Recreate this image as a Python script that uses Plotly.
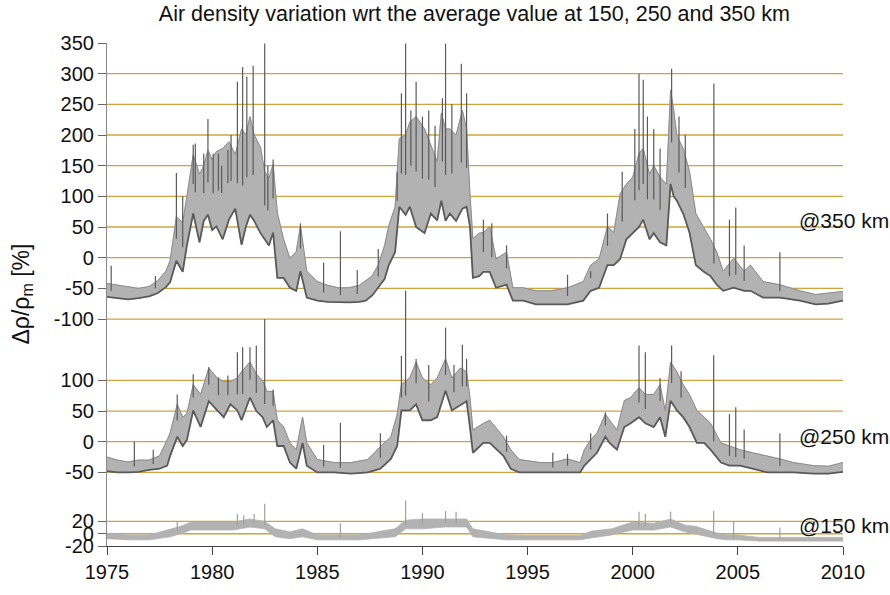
import numpy as np
import plotly.graph_objects as go

# ---------------- data (values in % per altitude) ----------------
years_350 = [1975.0,1975.5,1976.0,1976.5,1977.0,1977.4,1977.8,1978.0,1978.3,1978.6,1978.8,1979.1,1979.4,1979.6,1979.8,
             1980.0,1980.2,1980.5,1980.8,1981.1,1981.4,1981.6,1981.8,1982.0,1982.3,1982.5,1982.7,1982.9,1983.1,1983.4,
             1983.7,1984.0,1984.2,1984.5,1985.0,1985.5,1986.0,1986.5,1987.0,1987.3,1987.6,1987.9,1988.2,1988.4,1988.7,
             1988.9,1989.2,1989.4,1989.7,1990.1,1990.4,1990.7,1990.9,1991.1,1991.3,1991.6,1991.9,1992.1,1992.26,1992.4,
             1992.7,1992.9,1993.2,1993.5,1994.0,1994.3,1994.8,1995.4,1996.1,1996.9,1997.65,1998.0,1998.4,1998.8,1999.1,
             1999.4,1999.7,2000.0,2000.3,2000.5,2000.8,2001.0,2001.3,2001.6,2001.8,2001.95,2002.1,2002.4,2002.7,2003.0,
             2003.35,2003.7,2004.0,2004.3,2004.8,2005.3,2005.6,2006.2,2007.0,2007.95,2008.7,2009.3,2010.0]
low_350 = [-64,-66,-68,-66,-63,-58,-48,-40,-5,-23,20,72,25,60,70,
           45,51,30,62,80,21,50,70,60,40,30,20,41,-33,-33,
           -49,-54,-22,-65,-70,-72,-73,-73,-72,-70,-62,-49,-35,-12,9,
           83,70,83,50,40,72,61,93,60,72,60,80,83,51,-33,
           -30,-23,-23,-49,-44,-70,-70,-76,-76,-76,-70,-54,-49,-12,-12,
           -2,30,40,50,62,30,40,25,20,120,100,93,72,41,-12,
           -22,-30,-44,-54,-49,-54,-54,-65,-65,-70,-76,-75,-70]
high_350 = [-42,-45,-48,-50,-47,-38,-22,-5,67,57,100,168,136,150,175,
            160,173,178,189,168,210,200,230,200,180,140,130,152,73,30,
            -1,10,52,-22,-39,-45,-49,-49,-45,-38,-30,-12,20,52,83,
            194,200,221,230,210,184,157,236,210,210,200,240,210,104,31,
            40,41,51,-2,9,-49,-49,-54,-54,-49,-39,-12,-2,51,41,
            104,120,131,170,178,136,150,131,120,273,240,199,178,141,72,
            51,30,9,-22,-1,-22,-12,-39,-44,-54,-60,-58,-55]
spike_years_350 = [1975.2,1977.3,1978.3,1978.6,1979.1,1979.2,1979.6,1979.8,1980.05,1980.3,1980.45,1980.75,1980.9,
                   1981.2,1981.45,1981.65,1981.95,1982.5,1982.65,1982.9,1984.2,
                   1985.3,1986.1,1986.9,1987.9,1988.8,1989.0,1989.2,1989.45,1989.7,1990.0,1990.3,1990.6,1990.95,
                   1991.1,1991.4,1991.85,1992.1,
                   1992.9,1993.3,1994.0,1996.9,1998.0,1998.8,1999.5,2000.1,2000.3,2000.5,2000.7,2001.0,2001.3,
                   2001.85,2002.2,2002.5,2003.86,
                   2004.6,2004.9,2005.3,2007.0]
spike_vals_350 = [-13,-30,138,100,184,186,170,226,170,170,150,176,200,
                  287,311,295,313,349,150,160,56,
                  -8,43,-20,14,140,268,349,240,287,230,240,215,260,
                  349,250,316,268,
                  62,56,20,-28,-22,72,140,210,300,290,230,210,178,
                  308,230,200,284,
                  62,82,20,9]

years_250 = [1975.0,1975.5,1976.0,1976.5,1977.0,1977.5,1977.86,1978.0,1978.34,1978.6,1978.8,1979.1,1979.45,1979.84,
             1980.24,1980.55,1980.87,1981.2,1981.4,1981.8,1982.1,1982.4,1982.6,1982.9,1983.1,1983.4,1983.7,1984.0,
             1984.3,1984.5,1985.0,1985.8,1986.6,1987.4,1988.0,1988.5,1988.8,1989.0,1989.4,1989.7,1990.0,1990.4,
             1990.7,1991.1,1991.4,1991.8,1992.1,1992.26,1992.4,1992.9,1993.2,1993.85,1994.2,1994.6,1995.6,1996.2,
             1996.9,1997.5,1997.7,1998.0,1998.3,1998.7,1998.9,1999.25,1999.6,1999.9,2000.3,2000.6,2001.0,2001.3,
             2001.55,2001.8,2002.1,2002.4,2002.7,2003.05,2003.4,2003.7,2004.2,2004.6,2005.1,2005.7,2006.4,2007.0,
             2007.65,2008.6,2009.3,2010.0]
low_250 = [-48,-50,-50,-49,-46,-44,-39,-23,8,-7,3,51,24,66,
           51,40,61,51,35,72,50,40,24,35,-7,-7,-34,-44,
           -2,-39,-50,-50,-52,-50,-44,-28,-7,51,51,61,35,35,
           40,83,51,60,66,24,-18,-2,-2,-23,-44,-50,-50,-50,
           -50,-50,-39,-28,-18,8,-2,-13,24,30,40,30,24,40,
           8,67,51,40,24,-2,-2,-13,-34,-39,-39,-44,-50,-50,
           -50,-52,-52,-49]
high_250 = [-25,-30,-33,-30,-30,-23,3,14,61,40,46,93,77,120,
            104,98,98,104,114,130,110,100,82,82,35,24,-2,-13,
            40,-2,-29,-34,-34,-29,-8,8,45,93,104,130,104,93,
            104,135,104,120,114,72,19,30,35,8,-13,-29,-34,-34,
            -28,-34,-13,3,14,45,35,19,67,72,88,77,77,93,
            50,130,114,93,77,51,40,30,-2,-7,-13,-18,-23,-28,
            -34,-39,-40,-34]
spike_years_250 = [1976.3,1977.2,1978.34,1979.1,1979.84,1980.3,1980.75,1981.2,1981.45,1981.8,1982.1,1982.5,1982.9,
                   1985.3,1986.1,1988.0,1989.0,
                   1989.2,1989.7,1990.3,1991.1,1991.5,1991.9,1992.1,1994.0,1996.2,1996.9,1998.0,1998.7,2000.3,
                   2000.6,2001.3,2001.85,2002.3,
                   2003.85,2004.6,2004.9,2005.3,2007.0]
spike_vals_250 = [0,-13,77,110,122,105,108,146,154,154,157,200,85,
                  -5,31,14,140,
                  246,135,125,186,125,158,135,10,-18,-20,14,48,157,
                  146,104,157,115,
                  141,45,56,20,14]

years_150 = [1975.0,1976.0,1977.0,1978.0,1978.5,1979.0,1980.0,1981.0,1981.8,1982.5,1983.0,1983.7,1984.3,1985.0,
             1986.0,1987.0,1988.0,1988.7,1989.2,1990.0,1991.1,1992.1,1992.4,1993.0,1994.0,1995.0,1997.5,1998.0,
             1999.0,2000.0,2001.0,2001.8,2002.5,2003.0,2004.0,2004.5,2005.0,2006.0,2008.0,2010.0]
low_150 = [-8,-10,-10,-5,0,6,6,6,11,8,-5,-8,-5,-10,
           -10,-10,-7,-5,8,8,11,11,-5,-7,-10,-10,-10,-7,
           -2,6,6,11,3,0,-8,-10,-10,-12,-12,-12]
high_150 = [0,-2,-2,8,12,19,19,19,24,20,8,3,8,-2,
            -2,-2,4,8,22,24,24,24,8,4,-2,-3,-3,4,
            8,19,17,24,14,12,1,-2,-2,-6,-6,-6]
spike_years_150 = [1978.34,1981.2,1981.5,1982.0,1982.5,1986.1,1989.2,1990.0,1991.1,1991.6,2000.3,2000.6,2001.8,
                   2003.85,2004.8,2007.0]
spike_vals_150 = [19,32,30,32,49,17,54,34,37,36,36,32,36,37,20,10]

offsets = {"350": 450, "250": 150, "150": 0}

tick_vals_350 = [350, 300, 250, 200, 150, 100, 50, 0, -50, -100]
tick_vals_250 = [100, 50, 0, -50]
tick_vals_150 = [20, 0, -20]
grid_vals_350 = [300, 250, 200, 150, 100, 50, 0, -50, -100]
grid_vals_250 = [100, 50, 0, -50]
grid_vals_150 = [20, 0]
x_ticks = [1975, 1980, 1985, 1990, 1995, 2000, 2005, 2010]

DARK = "#5a5a5a"
MID = "#8c8c8c"
LIGHT = "#b2b2b2"
GRID = "#cfa43f"
FONT = "Liberation Sans, Arial, sans-serif"

fig = go.Figure()

def add_band(years, low, high, spk_x, spk_y, off, with_dark):
    yrs = np.array(years, dtype=float)
    lo = np.array(low, dtype=float) + off
    hi = np.array(high, dtype=float) + off
    px = np.concatenate([yrs, yrs[::-1]])
    py = np.concatenate([hi, lo[::-1]])
    fig.add_trace(go.Scatter(x=px, y=py, mode="lines", fill="toself", fillcolor=LIGHT,
                             line=dict(color=LIGHT, width=0.8),
                             hoverinfo="skip", showlegend=False))
    if with_dark:
        fig.add_trace(go.Scatter(x=yrs, y=hi, mode="lines", line=dict(color=MID, width=1),
                                 hoverinfo="skip", showlegend=False))
        fig.add_trace(go.Scatter(x=yrs, y=lo, mode="lines", line=dict(color=DARK, width=1.8),
                                 hoverinfo="skip", showlegend=False))
    # spikes rising from the upper edge of the band
    sx, sy = [], []
    for xv, yv in zip(spk_x, spk_y):
        base = float(np.interp(xv, yrs, (lo + hi) / 2))
        sx += [xv, xv, None]
        sy += [base, yv + off, None]
    fig.add_trace(go.Scatter(x=sx, y=sy, mode="lines",
                             line=dict(color=DARK if with_dark else "#a0a0a0", width=1.2),
                             hoverinfo="skip", showlegend=False))

add_band(years_150, low_150, high_150, spike_years_150, spike_vals_150, offsets["150"], False)
add_band(years_250, low_250, high_250, spike_years_250, spike_vals_250, offsets["250"], True)
add_band(years_350, low_350, high_350, spike_years_350, spike_vals_350, offsets["350"], True)

# gridlines
shapes = []
for vals, key in [(grid_vals_350, "350"), (grid_vals_250, "250"), (grid_vals_150, "150")]:
    for v in vals:
        shapes.append(dict(type="line", xref="paper", x0=0, x1=1, yref="y",
                           y0=v + offsets[key], y1=v + offsets[key],
                           line=dict(color=GRID, width=1.3), layer="below"))

tickvals = [v + offsets["350"] for v in tick_vals_350] + \
           [v + offsets["250"] for v in tick_vals_250] + \
           [v + offsets["150"] for v in tick_vals_150]
ticktext = [str(v) for v in tick_vals_350 + tick_vals_250 + tick_vals_150]

fig.update_layout(
    width=890, height=595,
    margin=dict(l=107, r=47, t=43, b=36),
    paper_bgcolor="white", plot_bgcolor="white",
    font=dict(family=FONT, size=20, color="#111111"),
    title=dict(text="Air density variation wrt the average value at 150, 250 and 350 km",
               x=0.533, xanchor="center", xref="container",
               y=1 - 13/595, yanchor="middle", yref="container",
               font=dict(family=FONT, size=21.5, color="#111111")),
    shapes=shapes,
    showlegend=False,
)
fig.update_xaxes(range=[1975, 2010], tickvals=x_ticks, ticktext=[str(t) for t in x_ticks],
                 showgrid=False, zeroline=False, showline=True, linecolor="#444444", linewidth=1.2,
                 ticks="outside", ticklen=8, tickcolor="#444444", tickwidth=1.2,
                 tickfont=dict(family=FONT, size=20, color="#111111"))
fig.update_yaxes(range=[-20, 800], tickvals=tickvals, ticktext=ticktext,
                 showgrid=False, zeroline=False, showline=True, linecolor="#888888", linewidth=1.2,
                 ticks="outside", ticklen=8, tickcolor="#666666", tickwidth=1.2,
                 tickfont=dict(family=FONT, size=20, color="#111111"))

# altitude labels
for txt, yv in [("@350 km", 61 + offsets["350"]), ("@250 km", 8 + offsets["250"]), ("@150 km", 13 + offsets["150"])]:
    fig.add_annotation(text=txt, x=2007.8, y=yv, xref="x", yref="y", xanchor="left", yanchor="middle",
                       showarrow=False, font=dict(family=FONT, size=21, color="#111111"))

fig.add_annotation(text="Δρ/ρ<sub>m</sub> [%]", textangle=-90, xref="paper", yref="paper",
                   x=(22 - 107) / 736, y=0.5, xanchor="center", yanchor="middle", showarrow=False,
                   font=dict(family=FONT, size=23, color="#111111"))

fig.write_html("out.html")
